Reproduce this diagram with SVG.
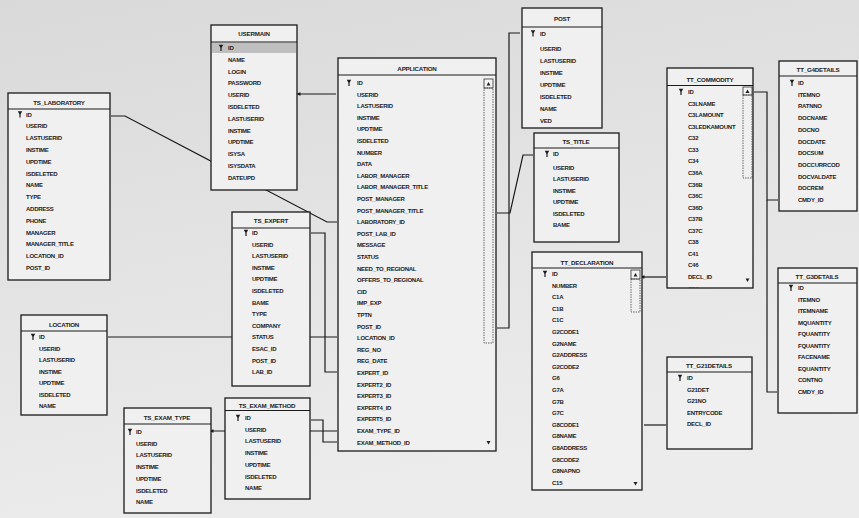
<svg xmlns="http://www.w3.org/2000/svg" width="859" height="518" viewBox="0 0 859 518">
<defs>
<linearGradient id="bg" x1="0" y1="0" x2="0.3" y2="1">
<stop offset="0" stop-color="#d9d9d9"/>
<stop offset="0.5" stop-color="#e3e3e3"/>
<stop offset="1" stop-color="#ececec"/>
</linearGradient>
<path id="key" d="M-2.2,-3.2 L2.2,-3.2 L0.6,-0.2 L0.6,3 L-0.6,3 L-0.6,-0.2 Z" fill="#1c1c1c"/>
<marker id="arr" markerWidth="6" markerHeight="6" refX="0.5" refY="3" orient="auto-start-reverse" markerUnits="userSpaceOnUse">
<path d="M0,1.2 L5,3 L0,4.8 Z" fill="#1c1c1c"/>
</marker>
<clipPath id="clipCom"><rect x="667" y="68" width="86" height="219.5"/></clipPath>
</defs>
<style>
.box{fill:#f0f0f0;stroke:#1a1a1a;stroke-width:1.3}
.hl{stroke:#1a1a1a;stroke-width:1}
.t{font-family:"Liberation Sans",Arial,sans-serif;font-size:6px;font-weight:bold;fill:#1c1c1c;letter-spacing:-0.25px}
.ttl{font-family:"Liberation Sans",Arial,sans-serif;font-size:6.2px;font-weight:bold;fill:#1c1c1c;text-anchor:middle;letter-spacing:-0.2px}
.c{fill:none;stroke:#1a1a1a;stroke-width:1.2}
.sb{fill:#f4f4f4;stroke:#333;stroke-width:0.8}
.th{fill:none;stroke:#444;stroke-width:0.8;stroke-dasharray:1.5 1}
.tri{fill:#222}
</style>
<rect x="0" y="0" width="859" height="518" fill="url(#bg)"/>

<g id="connectors">
<polyline class="c" points="111,116 125,116 327,222 337,222"/>
<line class="c" x1="300" y1="94" x2="336" y2="94" marker-start="url(#arr)"/>
<line class="c" x1="108" y1="337" x2="337" y2="337"/>
<polyline class="c" points="311,233 325,233 325,372 337,372"/>
<line class="c" x1="213" y1="431" x2="337" y2="431" marker-start="url(#arr)"/>
<polyline class="c" points="311,420 323,420 323,442 337,442"/>
<polyline class="c" points="497,328 509,328 509,33 520,33"/>
<polyline class="c" points="497,213 510,213 523,155 533,155"/>
<line class="c" x1="644" y1="277" x2="666" y2="277" marker-start="url(#arr)"/>
<line class="c" x1="644" y1="425" x2="666" y2="425"/>
<polyline class="c" points="754,92 767,92 767,200 778,200"/>
<polyline class="c" points="767,200 767,392 777,392"/>
</g>

<g id="ts_laboratory">
<rect class="box" x="8" y="93" width="102" height="187"/>
<line class="hl" x1="8" y1="109" x2="110" y2="109"/>
<text class="ttl" x="59" y="104.5">TS_LABORATORY</text>
<use href="#key" x="20" y="114.5"/>
<text class="t" x="26" y="116.5">ID</text>
<text class="t" x="26" y="128.3">USERID</text>
<text class="t" x="26" y="140.1">LASTUSERID</text>
<text class="t" x="26" y="151.9">INSTIME</text>
<text class="t" x="26" y="163.7">UPDTIME</text>
<text class="t" x="26" y="175.5">ISDELETED</text>
<text class="t" x="26" y="187.3">NAME</text>
<text class="t" x="26" y="199.1">TYPE</text>
<text class="t" x="26" y="210.9">ADDRESS</text>
<text class="t" x="26" y="222.7">PHONE</text>
<text class="t" x="26" y="234.5">MANAGER</text>
<text class="t" x="26" y="246.3">MANAGER_TITLE</text>
<text class="t" x="26" y="258.1">LOCATION_ID</text>
<text class="t" x="26" y="269.9">POST_ID</text>
</g>

<g id="usermain">
<rect class="box" x="211" y="25" width="86" height="165"/>
<rect x="212" y="42.5" width="84" height="10.5" fill="#bfbfbf"/>
<line class="hl" x1="211" y1="42" x2="297" y2="42"/>
<text class="ttl" x="254" y="35.5">USERMAIN</text>
<use href="#key" x="221" y="48"/>
<text class="t" x="228" y="50">ID</text>
<text class="t" x="228" y="61.8">NAME</text>
<text class="t" x="228" y="73.6">LOGIN</text>
<text class="t" x="228" y="85.4">PASSWORD</text>
<text class="t" x="228" y="97.2">USERID</text>
<text class="t" x="228" y="109">ISDELETED</text>
<text class="t" x="228" y="120.8">LASTUSERID</text>
<text class="t" x="228" y="132.6">INSTIME</text>
<text class="t" x="228" y="144.4">UPDTIME</text>
<text class="t" x="228" y="156.2">ISYSA</text>
<text class="t" x="228" y="168">ISYSDATA</text>
<text class="t" x="228" y="179.8">DATEUPD</text>
</g>

<g id="application">
<rect class="box" x="338" y="58" width="158" height="393"/>
<line class="hl" x1="338" y1="75" x2="496" y2="75"/>
<text class="ttl" x="417" y="71">APPLICATION</text>
<rect class="sb" x="484" y="79" width="9" height="9"/>
<path class="tri" d="M486.5,85.5 L490.5,85.5 L488.5,82 Z"/>
<rect class="th" x="484" y="88" width="9" height="255"/>
<path class="tri" d="M486.5,441 L490.5,441 L488.5,444.5 Z"/>
<use href="#key" x="349" y="83"/>
<text class="t" x="357" y="85">ID</text>
<text class="t" x="357" y="96.6">USERID</text>
<text class="t" x="357" y="108.2">LASTUSERID</text>
<text class="t" x="357" y="119.8">INSTIME</text>
<text class="t" x="357" y="131.4">UPDTIME</text>
<text class="t" x="357" y="143">ISDELETED</text>
<text class="t" x="357" y="154.6">NUMBER</text>
<text class="t" x="357" y="166.2">DATA</text>
<text class="t" x="357" y="177.8">LABOR_MANAGER</text>
<text class="t" x="357" y="189.4">LABOR_MANAGER_TITLE</text>
<text class="t" x="357" y="201">POST_MANAGER</text>
<text class="t" x="357" y="212.6">POST_MANAGER_TITLE</text>
<text class="t" x="357" y="224.2">LABORATORY_ID</text>
<text class="t" x="357" y="235.8">POST_LAB_ID</text>
<text class="t" x="357" y="247.4">MESSAGE</text>
<text class="t" x="357" y="259">STATUS</text>
<text class="t" x="357" y="270.6">NEED_TO_REGIONAL</text>
<text class="t" x="357" y="282.2">OFFERS_TO_REGIONAL</text>
<text class="t" x="357" y="293.8">CID</text>
<text class="t" x="357" y="305.4">IMP_EXP</text>
<text class="t" x="357" y="317">TPTN</text>
<text class="t" x="357" y="328.6">POST_ID</text>
<text class="t" x="357" y="340.2">LOCATION_ID</text>
<text class="t" x="357" y="351.8">REG_NO</text>
<text class="t" x="357" y="363.4">REG_DATE</text>
<text class="t" x="357" y="375">EXPERT_ID</text>
<text class="t" x="357" y="386.6">EXPERT2_ID</text>
<text class="t" x="357" y="398.2">EXPERT3_ID</text>
<text class="t" x="357" y="409.8">EXPERT4_ID</text>
<text class="t" x="357" y="421.4">EXPERT5_ID</text>
<text class="t" x="357" y="433">EXAM_TYPE_ID</text>
<text class="t" x="357" y="444.6">EXAM_METHOD_ID</text>
</g>

<g id="ts_expert">
<rect class="box" x="232" y="212" width="78" height="174"/>
<line class="hl" x1="232" y1="228" x2="310" y2="228"/>
<text class="ttl" x="271" y="222.5">TS_EXPERT</text>
<use href="#key" x="246" y="233"/>
<text class="t" x="252" y="235">ID</text>
<text class="t" x="252" y="246.6">USERID</text>
<text class="t" x="252" y="258.2">LASTUSERID</text>
<text class="t" x="252" y="269.8">INSTIME</text>
<text class="t" x="252" y="281.4">UPDTIME</text>
<text class="t" x="252" y="293">ISDELETED</text>
<text class="t" x="252" y="304.6">BAME</text>
<text class="t" x="252" y="316.2">TYPE</text>
<text class="t" x="252" y="327.8">COMPANY</text>
<text class="t" x="252" y="339.4">STATUS</text>
<text class="t" x="252" y="351">ESAC_ID</text>
<text class="t" x="252" y="362.6">POST_ID</text>
<text class="t" x="252" y="374.2">LAB_ID</text>
</g>

<g id="ts_exam_method">
<rect class="box" x="225" y="398" width="85" height="101"/>
<line class="hl" x1="225" y1="410.5" x2="310" y2="410.5"/>
<text class="ttl" x="267" y="407.5">TS_EXAM_METHOD</text>
<use href="#key" x="238" y="418"/>
<text class="t" x="245" y="420">ID</text>
<text class="t" x="245" y="431.7">USERID</text>
<text class="t" x="245" y="443.4">LASTUSERID</text>
<text class="t" x="245" y="455.1">INSTIME</text>
<text class="t" x="245" y="466.8">UPDTIME</text>
<text class="t" x="245" y="478.5">ISDELETED</text>
<text class="t" x="245" y="490.2">NAME</text>
</g>

<g id="location">
<rect class="box" x="21" y="315" width="86" height="100"/>
<line class="hl" x1="21" y1="331" x2="107" y2="331"/>
<text class="ttl" x="64" y="326.5">LOCATION</text>
<use href="#key" x="33" y="337"/>
<text class="t" x="39" y="339">ID</text>
<text class="t" x="39" y="350.5">USERID</text>
<text class="t" x="39" y="362">LASTUSERID</text>
<text class="t" x="39" y="373.5">INSTIME</text>
<text class="t" x="39" y="385">UPDTIME</text>
<text class="t" x="39" y="396.5">ISDELETED</text>
<text class="t" x="39" y="408">NAME</text>
</g>

<g id="ts_exam_type">
<rect class="box" x="124" y="408" width="87" height="105"/>
<line class="hl" x1="124" y1="424" x2="211" y2="424"/>
<text class="ttl" x="167" y="419.5">TS_EXAM_TYPE</text>
<use href="#key" x="130" y="432"/>
<text class="t" x="136" y="434">ID</text>
<text class="t" x="136" y="445.7">USERID</text>
<text class="t" x="136" y="457.4">LASTUSERID</text>
<text class="t" x="136" y="469.1">INSTIME</text>
<text class="t" x="136" y="480.8">UPDTIME</text>
<text class="t" x="136" y="492.5">ISDELETED</text>
<text class="t" x="136" y="504.2">NAME</text>
</g>

<g id="post">
<rect class="box" x="522" y="8" width="80" height="120"/>
<line class="hl" x1="522" y1="27" x2="602" y2="27"/>
<text class="ttl" x="562" y="21">POST</text>
<use href="#key" x="533" y="33.5"/>
<text class="t" x="540" y="35.5">ID</text>
<text class="t" x="540" y="50.5">USERID</text>
<text class="t" x="540" y="62.6">LASTUSERID</text>
<text class="t" x="540" y="74.7">INSTIME</text>
<text class="t" x="540" y="86.8">UPDTIME</text>
<text class="t" x="540" y="98.9">ISDELETED</text>
<text class="t" x="540" y="111">NAME</text>
<text class="t" x="540" y="123.1">VED</text>
</g>

<g id="ts_title">
<rect class="box" x="534" y="133" width="85" height="109"/>
<line class="hl" x1="534" y1="148" x2="619" y2="148"/>
<text class="ttl" x="576" y="144">TS_TITLE</text>
<use href="#key" x="547" y="154"/>
<text class="t" x="553" y="156">ID</text>
<text class="t" x="553" y="170">USERID</text>
<text class="t" x="553" y="181.4">LASTUSERID</text>
<text class="t" x="553" y="192.8">INSTIME</text>
<text class="t" x="553" y="204.2">UPDTIME</text>
<text class="t" x="553" y="215.6">ISDELETED</text>
<text class="t" x="553" y="227">BAME</text>
</g>

<g id="tt_declaration">
<rect class="box" x="532" y="252" width="110" height="238"/>
<line class="hl" x1="532" y1="268" x2="642" y2="268"/>
<text class="ttl" x="587" y="264.5">TT_DECLARATION</text>
<rect class="sb" x="631" y="270" width="9" height="9"/>
<path class="tri" d="M633.5,276.5 L637.5,276.5 L635.5,273 Z"/>
<rect class="th" x="631" y="279" width="9" height="33"/>
<path class="tri" d="M633.5,482 L637.5,482 L635.5,485.5 Z"/>
<use href="#key" x="545" y="274"/>
<text class="t" x="552" y="276">ID</text>
<text class="t" x="552" y="287.6">NUMBER</text>
<text class="t" x="552" y="299.2">C1A</text>
<text class="t" x="552" y="310.8">C1B</text>
<text class="t" x="552" y="322.4">C1C</text>
<text class="t" x="552" y="334">G2CODE1</text>
<text class="t" x="552" y="345.6">G2NAME</text>
<text class="t" x="552" y="357.2">G2ADDRESS</text>
<text class="t" x="552" y="368.8">G2CODE2</text>
<text class="t" x="552" y="380.4">G6</text>
<text class="t" x="552" y="392">G7A</text>
<text class="t" x="552" y="403.6">G7B</text>
<text class="t" x="552" y="415.2">G7C</text>
<text class="t" x="552" y="426.8">G8CODE1</text>
<text class="t" x="552" y="438.4">G8NAME</text>
<text class="t" x="552" y="450">G8ADDRESS</text>
<text class="t" x="552" y="461.6">G8CODE2</text>
<text class="t" x="552" y="473.2">G8NAPNO</text>
<text class="t" x="552" y="484.8">C15</text>
</g>

<g id="tt_commodity">
<rect class="box" x="667" y="68" width="86" height="220"/>
<line class="hl" x1="667" y1="85.5" x2="753" y2="85.5"/>
<text class="ttl" x="710" y="81.5">TT_COMMODITY</text>
<rect class="sb" x="743" y="87" width="9" height="8"/>
<path class="tri" d="M745.5,93 L749.5,93 L747.5,89.5 Z"/>
<rect class="th" x="743" y="95" width="9" height="83"/>
<path class="tri" d="M745.5,278.5 L749.5,278.5 L747.5,282 Z"/>
<use href="#key" x="681" y="92"/>
<g clip-path="url(#clipCom)">
<text class="t" x="688" y="94">ID</text>
<text class="t" x="688" y="105.6">C3LNAME</text>
<text class="t" x="688" y="117.1">C3LAMOUNT</text>
<text class="t" x="688" y="128.7">C3LEDKAMOUNT</text>
<text class="t" x="688" y="140.2">C32</text>
<text class="t" x="688" y="151.8">C33</text>
<text class="t" x="688" y="163.4">C34</text>
<text class="t" x="688" y="174.9">C36A</text>
<text class="t" x="688" y="186.5">C36B</text>
<text class="t" x="688" y="198">C36C</text>
<text class="t" x="688" y="209.6">C36D</text>
<text class="t" x="688" y="221.2">C37B</text>
<text class="t" x="688" y="232.7">C37C</text>
<text class="t" x="688" y="244.3">C38</text>
<text class="t" x="688" y="255.8">C41</text>
<text class="t" x="688" y="267.4">C46</text>
<text class="t" x="688" y="279">DECL_ID</text>
<text class="t" x="688" y="290.5">C3A</text>
</g>
</g>

<g id="tt_g4details">
<rect class="box" x="779" y="61" width="78" height="150"/>
<line class="hl" x1="779" y1="76" x2="857" y2="76"/>
<text class="ttl" x="818" y="72">TT_G4DETAILS</text>
<use href="#key" x="792" y="83"/>
<text class="t" x="798" y="85">ID</text>
<text class="t" x="798" y="96.7">ITEMNO</text>
<text class="t" x="798" y="108.4">RATNNO</text>
<text class="t" x="798" y="120.1">DOCNAME</text>
<text class="t" x="798" y="131.8">DOCNO</text>
<text class="t" x="798" y="143.5">DOCDATE</text>
<text class="t" x="798" y="155.2">DOCSUM</text>
<text class="t" x="798" y="166.9">DOCCURRCOD</text>
<text class="t" x="798" y="178.6">DOCVALDATE</text>
<text class="t" x="798" y="190.3">DOCREM</text>
<text class="t" x="798" y="202">CMDY_ID</text>
</g>

<g id="tt_g3details">
<rect class="box" x="778" y="268" width="79" height="145"/>
<line class="hl" x1="778" y1="283" x2="857" y2="283"/>
<text class="ttl" x="817" y="279">TT_G3DETAILS</text>
<use href="#key" x="791" y="288"/>
<text class="t" x="798" y="290">ID</text>
<text class="t" x="798" y="301.6">ITEMNO</text>
<text class="t" x="798" y="313.1">ITEMNAME</text>
<text class="t" x="798" y="324.7">MQUANTITY</text>
<text class="t" x="798" y="336.2">FQUANTITY</text>
<text class="t" x="798" y="347.8">FQUANTITY</text>
<text class="t" x="798" y="359.3">FACENAME</text>
<text class="t" x="798" y="370.9">EQUANTITY</text>
<text class="t" x="798" y="382.4">CONTNO</text>
<text class="t" x="798" y="394">CMDY_ID</text>
</g>

<g id="tt_g21details">
<rect class="box" x="667" y="357" width="85" height="92"/>
<line class="hl" x1="667" y1="372" x2="752" y2="372"/>
<text class="ttl" x="709" y="368">TT_G21DETAILS</text>
<use href="#key" x="680" y="378"/>
<text class="t" x="687" y="380">ID</text>
<text class="t" x="687" y="391.6">G21DET</text>
<text class="t" x="687" y="403.2">G21NO</text>
<text class="t" x="687" y="414.8">ENTRYCODE</text>
<text class="t" x="687" y="426.4">DECL_ID</text>
</g>
</svg>
